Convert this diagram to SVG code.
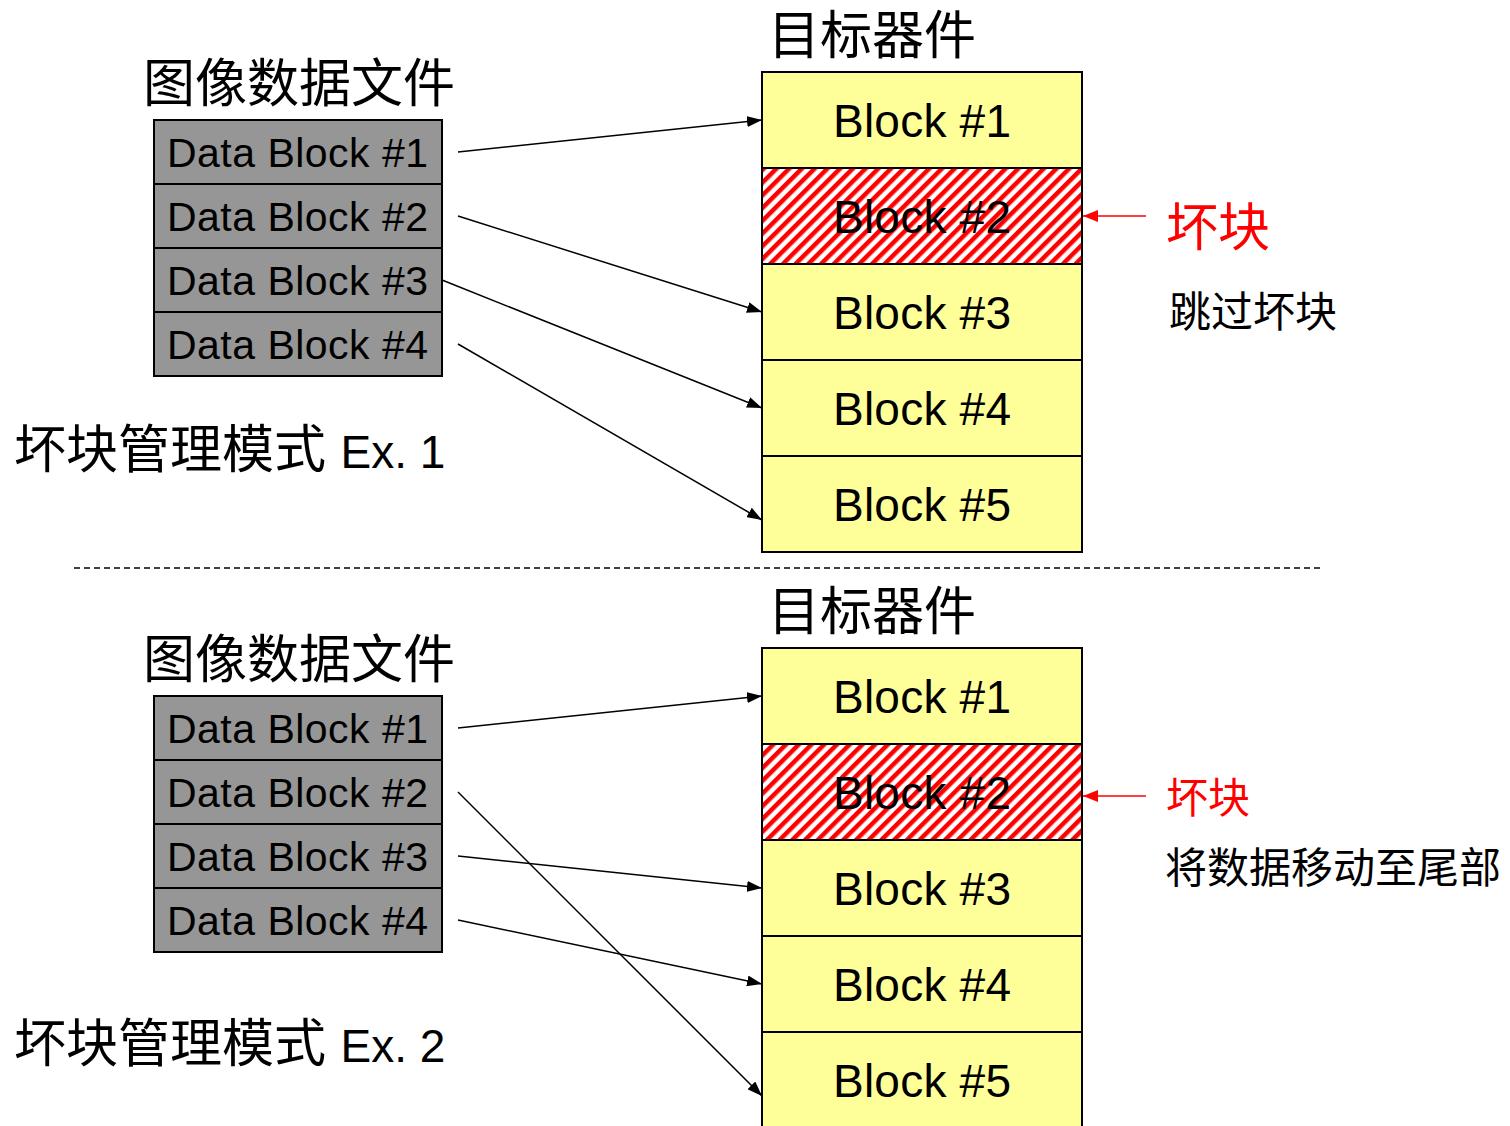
<svg xmlns="http://www.w3.org/2000/svg" width="1510" height="1126" viewBox="0 0 1510 1126">
<style>
.t{font-family:"Liberation Sans","Noto Sans CJK SC",sans-serif;fill:#000}
.cjk{font-family:"Noto Sans CJK SC",sans-serif}
.blk{fill:#FFFF99;stroke:#000;stroke-width:2}
.bad{fill:url(#hatch);stroke:#000;stroke-width:2}
.dat{fill:#969696;stroke:#000;stroke-width:2}
.bt{font-size:46px;text-anchor:middle}
.dt{font-size:41px}
.con{stroke:#000;stroke-width:1.5;fill:none;marker-end:url(#ah)}
.red{stroke:#FF0000;stroke-width:1.5;fill:none;marker-end:url(#ahr)}
</style>
<defs>
<pattern id="hatch" width="9" height="9" patternUnits="userSpaceOnUse" patternTransform="rotate(45)">
<rect width="9" height="9" fill="#fff"/>
<rect width="4.5" height="9" fill="#FF0000"/>
</pattern>
<marker id="ah" markerWidth="15" markerHeight="11" refX="15" refY="5.5" orient="auto" markerUnits="userSpaceOnUse"><path d="M0,0 L15,5.5 L0,11 Z" fill="#000"/></marker>
<marker id="ahr" markerWidth="15" markerHeight="12" refX="15" refY="6" orient="auto" markerUnits="userSpaceOnUse"><path d="M0,0 L15,6 L0,12 Z" fill="#FF0000"/></marker>
</defs>

<g id="top-labels">
<text class="t cjk" x="768" y="54" font-size="52">目标器件</text>
<text class="t cjk" x="143" y="102" font-size="52">图像数据文件</text>
<text class="t" x="14" y="468" font-size="52">坏块管理模式 <tspan font-size="46">Ex. 1</tspan></text>
<text class="t cjk" x="1166" y="246" font-size="52" style="fill:#FF0000">坏块</text>
<text class="t cjk" x="1169" y="327" font-size="42">跳过坏块</text>
</g>

<g id="top-target">
<g id="t1"><rect class="blk" x="762" y="72" width="320" height="96"/><text class="t bt" x="922" y="137" textLength="178">Block #1</text></g>
<g id="t2"><rect class="bad" x="762" y="168" width="320" height="96"/><text class="t bt" x="922" y="233" textLength="178">Block #2</text></g>
<g id="t3"><rect class="blk" x="762" y="264" width="320" height="96"/><text class="t bt" x="922" y="329" textLength="178">Block #3</text></g>
<g id="t4"><rect class="blk" x="762" y="360" width="320" height="96"/><text class="t bt" x="922" y="425" textLength="178">Block #4</text></g>
<g id="t5"><rect class="blk" x="762" y="456" width="320" height="96"/><text class="t bt" x="922" y="521" textLength="178">Block #5</text></g>
</g>

<g id="top-data">
<g id="d1"><rect class="dat" x="154" y="120" width="288" height="64"/><text class="t dt" x="167" y="167" textLength="261">Data Block #1</text></g>
<g id="d2"><rect class="dat" x="154" y="184" width="288" height="64"/><text class="t dt" x="167" y="231" textLength="261">Data Block #2</text></g>
<g id="d3"><rect class="dat" x="154" y="248" width="288" height="64"/><text class="t dt" x="167" y="295" textLength="261">Data Block #3</text></g>
<g id="d4"><rect class="dat" x="154" y="312" width="288" height="64"/><text class="t dt" x="167" y="359" textLength="261">Data Block #4</text></g>
</g>

<line x1="74" y1="568" x2="1322" y2="568" stroke="#000" stroke-width="1.5" stroke-dasharray="6,4"/>

<g id="bottom-labels">
<text class="t cjk" x="768" y="630" font-size="52">目标器件</text>
<text class="t cjk" x="143" y="678" font-size="52">图像数据文件</text>
<text class="t" x="14" y="1062" font-size="52">坏块管理模式 <tspan font-size="46">Ex. 2</tspan></text>
<text class="t cjk" x="1166" y="813" font-size="42" style="fill:#FF0000">坏块</text>
<text class="t cjk" x="1165" y="883" font-size="42">将数据移动至尾部</text>
</g>

<g id="bottom-target">
<g id="b1"><rect class="blk" x="762" y="648" width="320" height="96"/><text class="t bt" x="922" y="713" textLength="178">Block #1</text></g>
<g id="b2"><rect class="bad" x="762" y="744" width="320" height="96"/><text class="t bt" x="922" y="809" textLength="178">Block #2</text></g>
<g id="b3"><rect class="blk" x="762" y="840" width="320" height="96"/><text class="t bt" x="922" y="905" textLength="178">Block #3</text></g>
<g id="b4"><rect class="blk" x="762" y="936" width="320" height="96"/><text class="t bt" x="922" y="1001" textLength="178">Block #4</text></g>
<g id="b5"><rect class="blk" x="762" y="1032" width="320" height="96"/><text class="t bt" x="922" y="1097" textLength="178">Block #5</text></g>
</g>

<g id="bottom-data">
<g id="e1"><rect class="dat" x="154" y="696" width="288" height="64"/><text class="t dt" x="167" y="743" textLength="261">Data Block #1</text></g>
<g id="e2"><rect class="dat" x="154" y="760" width="288" height="64"/><text class="t dt" x="167" y="807" textLength="261">Data Block #2</text></g>
<g id="e3"><rect class="dat" x="154" y="824" width="288" height="64"/><text class="t dt" x="167" y="871" textLength="261">Data Block #3</text></g>
<g id="e4"><rect class="dat" x="154" y="888" width="288" height="64"/><text class="t dt" x="167" y="935" textLength="261">Data Block #4</text></g>
</g>

<g id="connectors">
<line class="con" x1="458" y1="152" x2="762" y2="120"/>
<line class="con" x1="458" y1="216" x2="762" y2="312"/>
<line class="con" x1="442" y1="280" x2="762" y2="408"/>
<line class="con" x1="458" y1="344" x2="762" y2="520"/>
<line class="red" x1="1146" y1="216" x2="1083" y2="216"/>
<line class="con" x1="458" y1="728" x2="762" y2="696"/>
<line class="con" x1="458" y1="792" x2="762" y2="1096"/>
<line class="con" x1="458" y1="856" x2="762" y2="888"/>
<line class="con" x1="458" y1="920" x2="762" y2="984"/>
<line class="red" x1="1146" y1="796" x2="1083" y2="796"/>
</g>
</svg>
